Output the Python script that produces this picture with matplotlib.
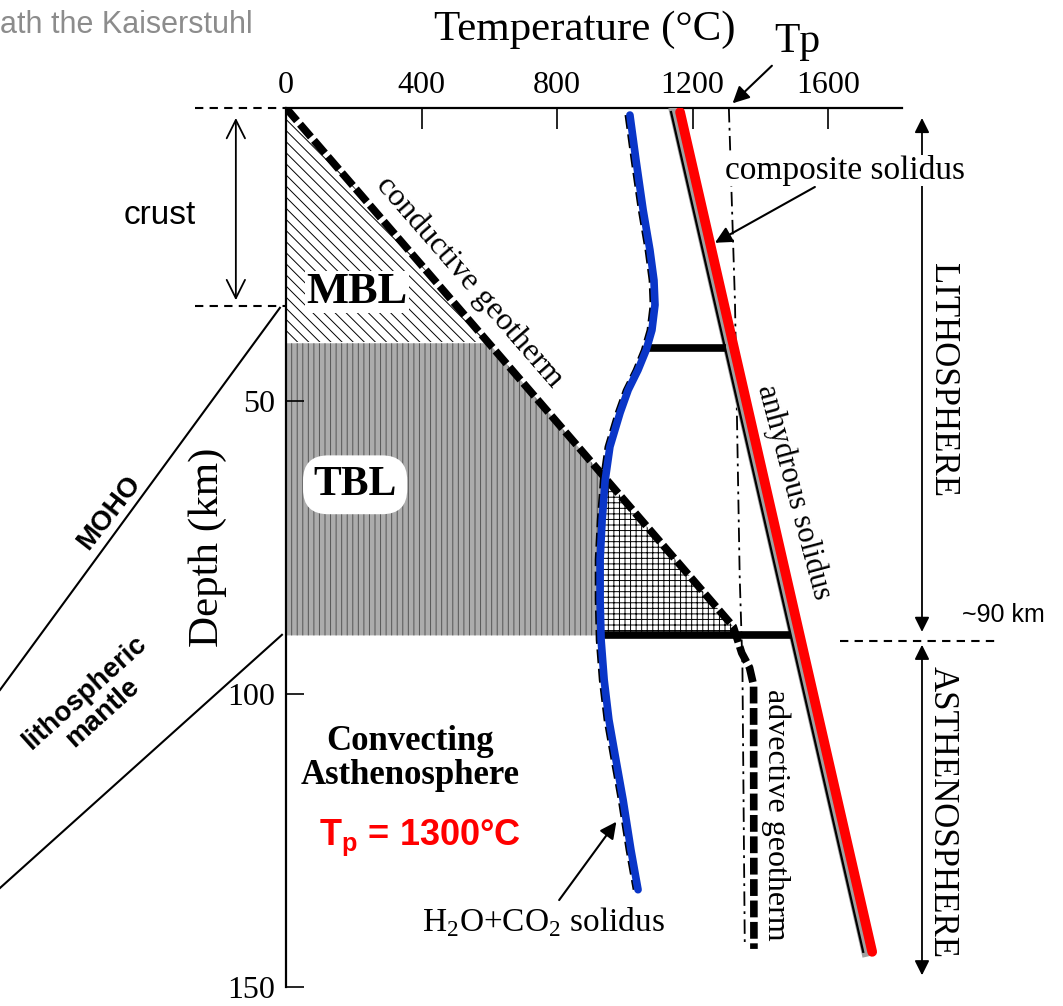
import numpy as np
import matplotlib.pyplot as plt
from matplotlib.transforms import offset_copy

plt.rcParams['mathtext.fontset'] = 'custom'
plt.rcParams['mathtext.rm'] = 'Liberation Serif'
plt.rcParams['mathtext.bf'] = 'Liberation Sans:bold'
plt.rcParams['hatch.linewidth'] = 0.7

SERIF = 'Liberation Serif'
SANS = 'Liberation Sans'

# geotherm: conductive part then advective part (T in °C, z in km)
therm_T = [0, 1320, 1345, 1368, 1380, 1381]
therm_z = [0, 88.5, 93, 95.5, 98.5, 143.5]
# mantle adiabat for Tp
tp_T = [1307, 1325, 1339, 1347, 1354]
tp_z = [0, 33, 80, 95, 143]
# H2O+CO2 solidus
wet_T = [1015, 1033, 1054, 1074, 1086, 1089, 1080, 1063, 1039, 1010, 986,
         956, 942, 933, 927, 927, 930, 939, 953, 974, 995, 1018, 1039]
wet_z = [1.2, 8.9, 17.4, 24.2, 29.4, 33.6, 37.9, 41.3, 44.7, 48.1, 52.0,
         57.8, 63.5, 70.3, 77.1, 83.9, 90.8, 97.6, 104.4, 111.3, 118.1, 126.6, 133.4]
# anhydrous solidus
dry_T = [1163, 1730]
dry_z = [0.7, 144]
# melting bars (composite solidus steps)
bar_z = [41, 90]
bar_T0 = [1066, 927]
bar_T1 = [1300, 1490]

moho_z = 33.8
mbl_base = 40
lith_base = 90

x_ticks = [0, 400, 800, 1200, 1600]
y_ticks = [50, 100, 150]

fig = plt.figure(figsize=(10.63, 10.06), dpi=100)
ax = fig.add_axes([286 / 1063, 1 - 987 / 1006, 616 / 1063, 879 / 1006])
ax.set_xlim(0, 1818)
ax.set_ylim(150, 0)

# shaded boundary layers
zz = np.linspace(0, lith_base, 400)
geo = np.interp(zz, therm_z, therm_T)
wet = np.interp(zz, wet_z, wet_T)
top = zz <= mbl_base
ax.fill_betweenx(zz[top], 0, geo[top], facecolor='white', edgecolor='black',
                 hatch='\\\\\\', lw=0, zorder=1)
low = zz >= mbl_base
ax.fill_betweenx(zz[low], 0, np.minimum(geo, wet)[low], facecolor='#acacac',
                 edgecolor='#555555', hatch='|||', lw=0, zorder=1)
ax.fill_betweenx(zz, wet, geo, where=geo > wet, facecolor='white',
                 edgecolor='black', hatch='+++', lw=0, zorder=1)

# curves
left3 = offset_copy(ax.transData, fig=fig, x=-4, y=0, units='dots')
left6 = offset_copy(ax.transData, fig=fig, x=-6, y=0, units='dots')
left9 = offset_copy(ax.transData, fig=fig, x=-9, y=0, units='dots')

ax.plot(tp_T, tp_z, color='black', lw=1.3, ls=(0, (8, 3, 1.5, 3)), zorder=2)
ax.plot(therm_T, therm_z, color='black', lw=5.5, ls=(0, (2.2, 0.6)), zorder=3,
        solid_capstyle='butt')
ax.plot(dry_T, dry_z, color='#a0a0a0', lw=7, transform=left6, zorder=3)
ax.plot(dry_T, dry_z, color='black', lw=1.6, transform=left9, zorder=3)
for z, t0, t1 in zip(bar_z, bar_T0, bar_T1):
    ax.plot([t0, t1], [z, z], color='black', lw=5.5, solid_capstyle='butt', zorder=4)
ax.plot(wet_T, wet_z, color='black', lw=2, ls=(0, (5, 2)), transform=left3, zorder=4)
ax.plot(wet_T, wet_z, color='#0a36c8', lw=5.5, solid_capstyle='round', zorder=5)
ax.plot(dry_T, dry_z, color='#ff0000', lw=7, solid_capstyle='round', zorder=5)

# axes styling
for s in ['right', 'bottom']:
    ax.spines[s].set_visible(False)
for s in ['top', 'left']:
    ax.spines[s].set_linewidth(1.6)
ax.xaxis.tick_top()
ax.set_xticks(x_ticks)
ax.set_yticks(y_ticks)
ax.tick_params(axis='x', direction='in', length=15, width=1.2, pad=6, labelsize=23)
ax.tick_params(axis='y', direction='in', length=13, width=1.2, pad=8, labelsize=23)
for lab in ax.get_xticklabels() + ax.get_yticklabels():
    lab.set_family(SERIF)

ax.text(883, -13.3, 'Temperature (°C)', family=SERIF, fontsize=31, ha='center', va='center')
ax.text(-0.127, 0.5, 'Depth (km)', transform=ax.transAxes, family=SERIF, fontsize=31,
        rotation=90, ha='center', va='center')

# labels inside the plot
ax.text(210, 31.4, 'MBL', family=SERIF, fontweight='bold', fontsize=32, ha='center',
        va='center', zorder=6, bbox=dict(fc='white', ec='none', pad=1))
ax.text(204, 64.3, 'TBL', family=SERIF, fontweight='bold', fontsize=30, ha='center',
        va='center', zorder=6, bbox=dict(boxstyle='round,pad=0.25,rounding_size=0.6',
                                         fc='white', ec='none'))
ax.text(543, 29.7, 'conductive geotherm', family=SERIF, fontsize=23, rotation=-49,
        ha='center', va='center', zorder=6)
ax.text(1500, 65.5, 'anhydrous solidus', family=SERIF, fontsize=22, rotation=-75,
        ha='center', va='center', zorder=6)
ax.text(1446, 120.6, 'advective geotherm', family=SERIF, fontsize=23, rotation=-90,
        ha='center', va='center', zorder=6)
ax.text(366, 111, 'Convecting\nAsthenosphere', family=SERIF, fontweight='bold',
        fontsize=25, ha='center', va='center', linespacing=1.05, zorder=6)
ax.text(396, 124.6, r'T$_\mathbf{p}$ = 1300°C', family=SANS, fontweight='bold',
        fontsize=26, color='#ff0000', ha='center', va='center', zorder=6)

arrow = dict(arrowstyle='-|>', color='black', lw=1.5, mutation_scale=25,
             shrinkA=2, shrinkB=0)
ax.annotate('composite solidus', xy=(1266, 23), xytext=(1650, 10.6),
            family=SERIF, fontsize=24, ha='center', va='center',
            bbox=dict(fc='white', ec='none', pad=0), arrowprops=arrow,
            annotation_clip=False, zorder=7)
ax.annotate(r'H$_2$O+CO$_2$ solidus', xy=(975, 121.8), xytext=(759, 138.9),
            family=SERIF, fontsize=24, ha='center', va='center', arrowprops=arrow,
            annotation_clip=False, zorder=7)
ax.annotate('Tp', xy=(1318, -0.8), xytext=(1508, -11.3), family=SERIF, fontsize=30,
            ha='center', va='center', arrowprops=arrow, annotation_clip=False)

# right side: lithosphere / asthenosphere
dbl = dict(arrowstyle='<|-|>', color='black', lw=1.3, mutation_scale=22,
           shrinkA=0, shrinkB=0)
ax.annotate('', xy=(1877, 1.7), xytext=(1877, 89.4), arrowprops=dbl, annotation_clip=False)
ax.annotate('', xy=(1877, 91.6), xytext=(1877, 148), arrowprops=dbl, annotation_clip=False)
ax.text(1937, 46.4, 'LITHOSPHERE', family=SERIF, fontsize=25, rotation=-90,
        ha='center', va='center')
ax.text(1937, 120.1, 'ASTHENOSPHERE', family=SERIF, fontsize=25, rotation=-90,
        ha='center', va='center')
ax.plot([1635, 2093], [lith_base + 1, lith_base + 1], color='black', lw=1.5,
        ls=(0, (4, 3)), clip_on=False)
ax.text(1996, 86.5, '~90 km', family=SANS, fontsize=18, ha='left', va='center')

# left side: crust / moho
for z in [0, moho_z]:
    ax.plot([-269, 0], [z, z], color='black', lw=1.5, ls=(0, (4, 3)), clip_on=False)
ax.annotate('', xy=(-148, 1.7), xytext=(-148, 32.8), annotation_clip=False,
            arrowprops=dict(arrowstyle='<->,head_length=0.6,head_width=0.3',
                            color='black', lw=1.3, mutation_scale=22,
                            shrinkA=0, shrinkB=0))
ax.text(-372, 18.3, 'crust', family=SANS, fontsize=24, ha='center', va='center')
ax.plot([-18, -844], [moho_z + 0.3, 99.3], color='black', lw=1.5, clip_on=False)
ax.plot([-12, -844], [lith_base - 0.1, 133.1], color='black', lw=1.5, clip_on=False)
ax.text(-522, 69, 'MOHO', family=SANS, fontweight='bold', fontsize=20, rotation=52,
        ha='center', va='center')
ax.text(-568, 101.5, 'lithospheric\nmantle', family=SANS, fontweight='bold', fontsize=20,
        rotation=42, ha='center', va='center', linespacing=1.0)

fig.text(0, 1 - 25 / 1006, 'ath the Kaiserstuhl', family=SANS, fontsize=22,
         color='#8c8c8c', ha='left', va='center')

fig.savefig('out.png', dpi=100)
